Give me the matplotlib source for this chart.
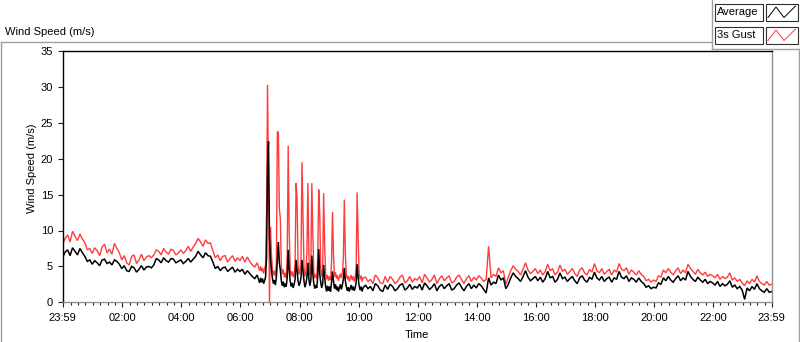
import numpy as np
import matplotlib
matplotlib.use("Agg")
import matplotlib.pyplot as plt
from matplotlib.lines import Line2D
from matplotlib.patches import Rectangle

plt.rcParams['font.family'] = ['Liberation Sans', 'DejaVu Sans']

# ---------------- data (minutes since 23:59) ----------------
# sampling: every 5 min until 06:39, every 2 min during the gust bursts, every 5 min after
time_min = np.concatenate([np.arange(0, 401, 5), np.arange(402, 611, 2), np.arange(615, 1441, 5)])

gust_speed = [
    # 23:59 - 06:39 (5 min)
    8.1, 8.9, 9.4, 8.4, 9.9, 9.2, 8.6, 9.5, 8.8, 8.3, 7.3, 7.5,
    6.8, 7.6, 7.2, 6.5, 7.7, 8.1, 6.9, 7.4, 6.7, 8.2, 7.5, 6.9,
    5.9, 6.5, 5.5, 5.2, 6.4, 6.6, 5.4, 5.9, 6.7, 5.8, 6.3, 6.5,
    6.2, 6.6, 7.3, 7.1, 6.6, 7.5, 7.0, 6.7, 7.4, 7.2, 6.6, 6.9,
    7.3, 6.8, 7.2, 7.8, 7.1, 7.7, 8.2, 8.9, 8.4, 7.8, 8.7, 8.2,
    8.3, 7.2, 6.2, 6.6, 5.8, 6.4, 6.5, 5.6, 6.1, 6.5, 5.7, 6.2,
    5.8, 6.4, 5.6, 6.3, 5.7, 5.2, 4.9, 5.5, 4.4,
    # 06:41 - 10:09 (2 min)
    5.0, 4.3, 4.8, 4.0, 4.6, 5.2, 12.2, 30.3, 17.0, 0.0,
    10.5, 6.5, 4.5, 3.8, 4.4, 3.6, 5.5, 23.8, 23.6, 13.0,
    11.7, 5.0, 3.9, 4.6, 3.5, 4.1, 3.4, 6.5, 21.8, 9.8,
    4.6, 3.7, 4.3, 3.5, 4.0, 5.5, 16.6, 14.5, 5.2, 3.9,
    4.4, 6.0, 19.5, 12.0, 5.0, 3.6, 4.2, 7.0, 16.6, 6.5,
    3.8, 5.5, 16.6, 9.5, 4.3, 3.4, 3.9, 3.3, 6.5, 15.7,
    12.5, 4.8, 3.6, 4.5, 15.2, 8.0, 4.0, 3.2, 3.8, 3.0,
    3.6, 3.1, 5.5, 12.6, 6.5, 3.6, 4.2, 3.3, 3.8, 3.0,
    3.5, 4.0, 3.4, 4.1, 6.0, 14.3, 7.0, 3.9, 3.2, 3.7,
    2.9, 3.4, 3.8, 3.1, 3.6, 2.9, 3.4, 5.0, 15.3, 9.0,
    4.0, 3.2, 3.7, 2.9, 3.4,
    # 10:14 - 23:59 (5 min)
    3.5, 2.9, 3.2, 2.6, 3.8, 3.4, 2.7, 2.6, 3.6,
    2.8, 3.6, 3.2, 2.6, 2.9, 3.5, 3.8, 2.7, 3.0, 3.6, 2.8, 3.3,
    3.1, 3.6, 2.7, 3.9, 3.4, 2.8, 3.2, 3.8, 2.6, 3.3, 3.7, 3.0,
    3.4, 3.7, 2.7, 2.9, 3.5, 3.8, 3.2, 2.6, 3.3, 3.7, 2.9, 3.5,
    3.1, 3.7, 3.4, 2.9, 3.2, 7.8, 3.4, 3.9, 3.6, 4.8, 4.1, 4.4,
    2.5, 3.5, 4.4, 5.1, 4.6, 4.3, 3.8, 4.6, 5.5, 4.5, 4.0, 4.3,
    4.7, 4.0, 4.5, 3.8, 4.3, 5.3, 4.4, 4.7, 3.8, 4.2, 5.2, 4.3,
    4.6, 3.9, 4.3, 4.7, 4.0, 3.6, 4.5, 4.8, 4.1, 3.8, 4.6, 4.2,
    5.4, 4.4, 4.1, 4.7, 3.9, 4.3, 4.6, 3.8, 4.5, 4.2, 5.4, 4.6,
    4.4, 4.8, 3.9, 4.5, 4.2, 3.8, 4.4, 3.9, 3.6, 3.0, 3.2, 2.8,
    3.1, 2.9, 3.7, 3.5, 4.5, 4.1, 4.7, 4.2, 3.8, 4.4, 4.8, 4.0,
    4.5, 4.1, 5.3, 4.7, 4.3, 3.9, 4.6, 4.1, 3.8, 4.2, 3.6, 3.9,
    3.7, 3.4, 3.9, 3.2, 3.6, 3.3, 3.5, 4.1, 3.1, 3.4, 2.9, 3.2,
    2.7, 2.3, 3.0, 2.6, 3.2, 2.8, 3.7, 2.9, 2.6, 2.4, 2.9, 2.4,
    2.5,
]

avg_speed = [
    # 23:59 - 06:39 (5 min)
    6.3, 7.0, 7.3, 6.5, 7.6, 7.1, 6.6, 7.5, 6.9, 6.4, 5.7, 5.9,
    5.3, 5.8, 5.5, 5.1, 5.9, 6.0, 5.4, 5.6, 5.2, 5.9, 5.7, 5.3,
    4.7, 5.1, 4.4, 4.3, 5.0, 4.8, 4.2, 4.6, 5.1, 4.5, 4.9, 5.0,
    4.8, 5.2, 6.1, 5.9, 5.5, 6.2, 5.8, 5.6, 6.1, 6.0, 5.5, 5.7,
    5.9, 5.4, 5.7, 6.1, 5.6, 6.0, 6.4, 7.1, 6.6, 6.2, 6.9, 6.5,
    6.4, 5.6, 4.7, 5.0, 4.4, 4.8, 4.9, 4.3, 4.6, 4.9, 4.2, 4.6,
    4.3, 4.6, 3.9, 4.4, 4.0, 3.6, 3.3, 3.8, 2.7,
    # 06:41 - 10:09 (2 min)
    3.4, 2.8, 3.3, 2.6, 3.0, 3.5, 6.2, 19.0, 22.4, 9.0,
    6.0, 4.5, 3.3, 2.6, 3.1, 2.4, 3.5, 6.0, 8.4, 5.5,
    4.5, 3.0, 2.3, 2.9, 2.1, 2.6, 2.2, 3.5, 7.3, 4.5,
    3.0, 2.2, 2.7, 2.0, 2.5, 3.2, 5.9, 4.5, 3.0, 2.3,
    2.7, 3.4, 5.9, 4.5, 3.0, 2.1, 2.6, 3.5, 5.5, 3.2,
    2.3, 3.1, 6.5, 4.0, 2.6, 1.9, 2.4, 2.0, 3.6, 7.4,
    4.0, 2.8, 2.0, 2.6, 5.2, 3.5, 2.2, 1.5, 2.3, 1.6,
    2.2, 1.5, 2.8, 4.3, 3.0, 1.9, 2.5, 1.7, 2.2, 1.5,
    2.0, 2.5, 1.8, 2.4, 3.2, 4.8, 3.0, 2.2, 1.6, 2.1,
    1.5, 2.0, 2.4, 1.7, 2.2, 1.6, 2.0, 2.8, 5.3, 3.5,
    2.3, 1.7, 2.2, 1.5, 2.0,
    # 10:14 - 23:59 (5 min)
    2.4, 1.9, 2.2, 1.6, 2.6, 2.3, 1.7, 1.5, 2.4,
    1.8, 2.5, 2.2, 1.6, 1.9, 2.4, 2.6, 1.7, 2.0, 2.5, 1.8, 2.2,
    2.0, 2.5, 1.7, 2.7, 2.3, 1.8, 2.1, 2.6, 1.6, 2.2, 2.5, 1.9,
    2.3, 2.6, 1.7, 1.9, 2.4, 2.7, 2.1, 1.6, 2.2, 2.6, 1.9, 2.4,
    2.0, 2.6, 2.3, 1.8, 1.3, 3.4, 2.4, 2.8, 2.6, 3.8, 3.1, 3.4,
    1.9, 2.5, 3.4, 4.1, 3.6, 3.3, 2.9, 3.6, 4.4, 3.5, 3.0, 3.3,
    3.6, 3.0, 3.5, 2.8, 3.3, 4.3, 3.4, 3.6, 2.8, 3.2, 4.1, 3.3,
    3.5, 2.9, 3.3, 3.6, 3.0, 2.6, 3.4, 3.7, 3.1, 2.8, 3.5, 3.2,
    4.2, 3.4, 3.1, 3.6, 2.9, 3.3, 3.5, 2.8, 3.4, 3.2, 4.3, 3.5,
    3.3, 3.7, 2.9, 3.4, 3.2, 2.8, 3.4, 2.9, 2.6, 2.1, 2.3, 1.9,
    2.1, 2.0, 2.7, 2.5, 3.4, 3.0, 3.6, 3.1, 2.8, 3.3, 3.7, 3.0,
    3.4, 3.1, 4.3, 3.6, 3.2, 2.9, 3.5, 3.1, 2.8, 3.2, 2.6, 2.9,
    2.7, 2.4, 2.9, 2.2, 2.6, 2.3, 2.5, 3.0, 2.1, 2.4, 1.9, 2.2,
    1.7, 0.4, 2.0, 1.6, 2.2, 1.8, 2.6, 1.9, 1.6, 1.4, 1.9, 1.4,
    1.5,
]

major_tick_min = [0, 121, 241, 361, 481, 601, 721, 841, 961, 1081, 1201, 1321, 1440]
major_tick_labels = ["23:59", "02:00", "04:00", "06:00", "08:00", "10:00", "12:00",
                     "14:00", "16:00", "18:00", "20:00", "22:00", "23:59"]
minor_tick_min = [1 + 15 * k for k in range(1, 96) if (1 + 15 * k) not in major_tick_min]
y_ticks = [0, 5, 10, 15, 20, 25, 30, 35]
legend_names = ["Average", "3s Gust"]

# ---------------- figure ----------------
W, H = 800, 342
fig = plt.figure(figsize=(W / 100, H / 100), dpi=100)
fig.patch.set_facecolor('white')

def fx(px):
    return px / W

def fy(py):
    return 1 - py / H

FS = 8
frame_gray = '#a0a0a0'
gust_color = '#ff3c3c'

# outer frame lines
fig.add_artist(Line2D([fx(1), fx(1)], [fy(42), fy(342)], color=frame_gray, lw=1.0))
fig.add_artist(Line2D([fx(1), fx(712)], [fy(42), fy(42)], color=frame_gray, lw=1.0))
fig.add_artist(Line2D([fx(798.5), fx(798.5)], [fy(49), fy(342)], color=frame_gray, lw=1.0))
# legend panel
fig.add_artist(Line2D([fx(712), fx(712)], [fy(0), fy(49)], color=frame_gray, lw=1.0))
fig.add_artist(Line2D([fx(712), fx(799)], [fy(49), fy(49)], color=frame_gray, lw=1.0))

# title
fig.text(fx(5), fy(32), "Wind Speed (m/s)", fontsize=FS, ha='left', va='center', color='black')

# axes
ax_left, ax_right, ax_top, ax_bottom = 62.7, 771.7, 51.0, 302.3
ax = fig.add_axes([fx(ax_left), fy(ax_bottom), (ax_right - ax_left) / W, (ax_bottom - ax_top) / H])
ax.set_facecolor('white')

ax.plot(time_min, gust_speed, color=gust_color, lw=1.0, solid_joinstyle='miter')
ax.plot(time_min, avg_speed, color='black', lw=1.1, solid_joinstyle='miter')

ax.set_xlim(0, 1440)
ax.set_ylim(0, 35)

ax.set_xticks(major_tick_min)
ax.set_xticklabels(major_tick_labels, fontsize=FS)
ax.set_xticks(minor_tick_min, minor=True)
ax.set_yticks(y_ticks)
ax.set_yticklabels([str(v) for v in y_ticks], fontsize=FS)

ax.tick_params(axis='x', which='major', direction='out', length=3.5, width=0.8, color='#202020', pad=4.5)
ax.tick_params(axis='x', which='minor', direction='out', length=2.0, width=0.8, color='#202020')
ax.tick_params(axis='y', which='major', direction='out', length=3.5, width=0.8, color='#202020', pad=3.5)

for side in ['top', 'left']:
    ax.spines[side].set_color('black')
    ax.spines[side].set_linewidth(1.0)
for side in ['bottom', 'right']:
    ax.spines[side].set_color('#909090')
    ax.spines[side].set_linewidth(1.0)

ax.set_xlabel("Time", fontsize=FS, labelpad=5)
ax.set_ylabel("Wind Speed (m/s)", fontsize=FS)
ax.yaxis.set_label_coords((37 - ax_left) / (ax_right - ax_left), (ax_bottom - 168.5) / (ax_bottom - ax_top))

# legend boxes
legend_colors = ['black', gust_color]
for i, (name, col) in enumerate(zip(legend_names, legend_colors)):
    top = 4 + i * 23
    bot = top + 16.5
    fig.add_artist(Rectangle((fx(715), fy(bot)), (762.5 - 715) / W, (bot - top) / H,
                             transform=fig.transFigure, facecolor='white', edgecolor='#303030', lw=0.8))
    fig.text(fx(717), fy((top + bot) / 2), name, fontsize=FS, ha='left', va='center', color='black')
    fig.add_artist(Rectangle((fx(766), fy(bot)), (797.5 - 766) / W, (bot - top) / H,
                             transform=fig.transFigure, facecolor='white', edgecolor='#303030', lw=0.8))
    zx = [768, 776, 784, 795.5]
    zy = [bot - 3, top + 3, bot - 3, top + 2]
    fig.add_artist(Line2D([fx(v) for v in zx], [fy(v) for v in zy], color=col, lw=0.7))

fig.savefig("out.png", dpi=100, facecolor='white')
